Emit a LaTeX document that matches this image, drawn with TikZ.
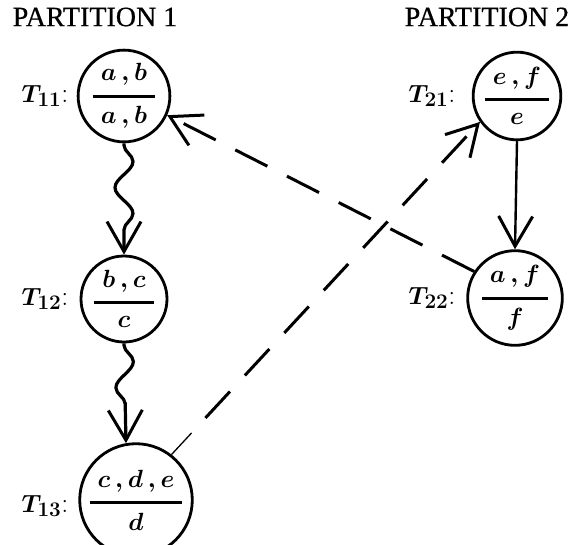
\documentclass[tikz,border=0pt]{standalone}
\usepackage{amsmath}
\usepackage{fontspec}
\newfontfamily\hdrfont[FakeBold=0.6]{Liberation Serif}
\usetikzlibrary{arrows.meta,decorations.pathmorphing,calc}
\newcommand{\fr}[2]{$\boldsymbol{\genfrac{}{}{3pt}{0}{\;#1\;}{\;#2\;}}$}
\tikzset{
  state/.style={circle, draw, line width=2.8pt, minimum size=86pt, inner sep=0pt,
    font=\fontsize{25}{28}\selectfont\boldmath},
  lbl/.style={font=\fontsize{28}{32}\selectfont\boldmath, inner sep=0pt},
  hdr/.style={font=\hdrfont\fontsize{28}{32}\selectfont, inner sep=0pt},
  tipbarb/.style={-{Straight Barb[length=30pt,width=34pt,line width=3pt]}},
  wave/.style={line width=3.2pt, tipbarb,
    decorate, decoration={snake, amplitude=9pt, segment length=52pt, pre length=2pt, post length=18pt}},
  solidarr/.style={line width=2.4pt, tipbarb},
  dashln/.style={line width=3pt, dash pattern=on 36pt off 22pt, tipbarb},
  thinln/.style={line width=1.3pt}
}
\begin{document}
\begin{tikzpicture}[x=1pt,y=-1pt]
\useasboundingbox (0,0) rectangle (584,544);
\node[hdr] (H1) at (95,17) {PARTITION 1};
\node[hdr] (H2) at (487,17) {PARTITION 2};

\node[state] (T11) at (124,96) {\fr{a\,,b}{a\,,b}};
\node[state] (T12) at (124,299) {\fr{b\,,c}{c}};
\node[state] (T13) at (136,500) {\fr{c\,,d\,,e}{d}};
\node[state] (T21) at (517,96) {\fr{e\,,f}{e}};
\node[state] (T22) at (515,298) {\fr{a\,,f}{f}};

\node[lbl] (L11) at (45,96) {$T_{11}$:};
\node[lbl] (L12) at (45,299) {$T_{12}$:};
\node[lbl] (L13) at (45,506) {$T_{13}$:};
\node[lbl] (L21) at (432,96) {$T_{21}$:};
\node[lbl] (L22) at (432,298) {$T_{22}$:};

\draw[wave] (T11.south) -- (T12.north);
\draw[wave] (T12.south) -- (T13.100);
\draw[solidarr] (T21.south) -- (T22.north);
\draw[dashln] (T22.147) -- (T11.-24);
\coordinate (D1) at ($(T13.52)!0.065!(T21.215)$);
\coordinate (D2) at ($(T13.52)!0.11!(T21.215)$);
\draw[thinln] (T13.52) -- (D1);
\draw[dashln] (D2) -- (T21.215);
\end{tikzpicture}
\end{document}
